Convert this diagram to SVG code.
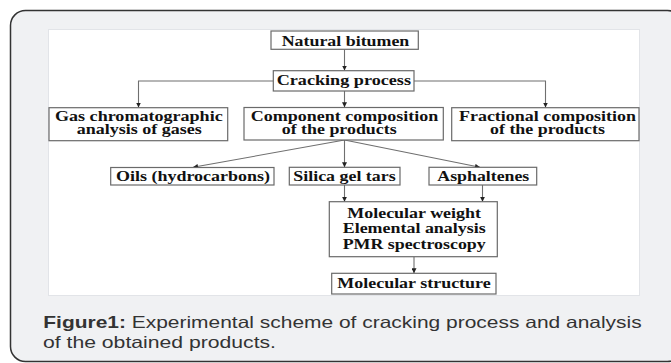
<svg xmlns="http://www.w3.org/2000/svg" width="671" height="363" viewBox="0 0 671 363">
<style>
.box{fill:#fff;stroke:#6a6a6a;stroke-width:1.2}
.t{font-family:"Liberation Serif","Times New Roman",serif;font-weight:bold;font-size:15px;fill:#111}
.c{fill:none;stroke:#6f6f6f;stroke-width:1.1}
.cap{font-family:"Liberation Sans",Arial,sans-serif;font-size:16.5px;fill:#333}
</style>
<defs>
<marker id="ah" viewBox="0 0 10 10" refX="10" refY="5" markerWidth="5" markerHeight="5" orient="auto" markerUnits="userSpaceOnUse">
<path d="M0,0 L10,5 L0,10 z" fill="#222"/>
</marker>
</defs>
<rect x="10.5" y="10.5" width="672" height="351" rx="15" ry="15" fill="#f0f1f3" stroke="#333" stroke-width="1.5"/>
<rect x="48.5" y="29.5" width="591" height="266" fill="#fff" stroke="#e2e4e8" stroke-width="1"/>
<g id="connectors">
<line class="c" x1="344.5" y1="49.5" x2="344.5" y2="70.5" marker-end="url(#ah)"/>
<polyline class="c" points="273,81 138.5,81 138.5,107.5" marker-end="url(#ah)"/>
<polyline class="c" points="414,81 545.5,81 545.5,107.5" marker-end="url(#ah)"/>
<line class="c" x1="344.5" y1="91" x2="344.5" y2="107.3" marker-end="url(#ah)"/>
<line class="c" x1="344.5" y1="140" x2="193" y2="167.3" marker-end="url(#ah)"/>
<line class="c" x1="344.5" y1="140" x2="344.5" y2="167.3" marker-end="url(#ah)"/>
<line class="c" x1="344.5" y1="140" x2="480" y2="167.3" marker-end="url(#ah)"/>
<line class="c" x1="344.5" y1="185" x2="344.5" y2="201.7" marker-end="url(#ah)"/>
<line class="c" x1="482.5" y1="185" x2="482.5" y2="201.7" marker-end="url(#ah)"/>
<line class="c" x1="414" y1="256.7" x2="414" y2="273.3" marker-end="url(#ah)"/>
</g>
<g id="natural-bitumen">
<rect class="box" x="271" y="31" width="147.3" height="18.3"/>
<text class="t" x="281.7" y="45.5" textLength="127.6" lengthAdjust="spacingAndGlyphs">Natural bitumen</text>
</g>
<g id="cracking-process">
<rect class="box" x="273.3" y="70.7" width="140.7" height="20.3"/>
<text class="t" x="276.7" y="84.5" textLength="134.3" lengthAdjust="spacingAndGlyphs">Cracking process</text>
</g>
<g id="gas-chromatographic">
<rect class="box" x="49" y="107.7" width="178.7" height="33"/>
<text class="t" x="55" y="120.5" textLength="167.7" lengthAdjust="spacingAndGlyphs">Gas chromatographic</text>
<text class="t" x="76.7" y="134" textLength="125" lengthAdjust="spacingAndGlyphs">analysis of gases</text>
</g>
<g id="component-composition">
<rect class="box" x="244" y="107.5" width="199.3" height="32.5"/>
<text class="t" x="250.7" y="120.5" textLength="187.6" lengthAdjust="spacingAndGlyphs">Component composition</text>
<text class="t" x="281.7" y="134" textLength="115" lengthAdjust="spacingAndGlyphs">of the products</text>
</g>
<g id="fractional-composition">
<rect class="box" x="451.7" y="107.7" width="187.3" height="33"/>
<text class="t" x="459" y="120.5" textLength="177" lengthAdjust="spacingAndGlyphs">Fractional composition</text>
<text class="t" x="490" y="134" textLength="115" lengthAdjust="spacingAndGlyphs">of the products</text>
</g>
<g id="oils">
<rect class="box" x="110.7" y="167.5" width="163.3" height="17.5"/>
<text class="t" x="116" y="180.5" textLength="154" lengthAdjust="spacingAndGlyphs">Oils (hydrocarbons)</text>
</g>
<g id="silica-gel-tars">
<rect class="box" x="289.3" y="167.3" width="110.7" height="17.7"/>
<text class="t" x="293.3" y="180.5" textLength="102.4" lengthAdjust="spacingAndGlyphs">Silica gel tars</text>
</g>
<g id="asphaltenes">
<rect class="box" x="429" y="167.3" width="107.7" height="17.7"/>
<text class="t" x="437.3" y="180.5" textLength="92" lengthAdjust="spacingAndGlyphs">Asphaltenes</text>
</g>
<g id="analysis-methods">
<rect class="box" x="329.3" y="201.7" width="168" height="55"/>
<text class="t" x="347.3" y="217.5" textLength="133.7" lengthAdjust="spacingAndGlyphs">Molecular weight</text>
<text class="t" x="342.7" y="233" textLength="143" lengthAdjust="spacingAndGlyphs">Elemental analysis</text>
<text class="t" x="342.7" y="248.5" textLength="143" lengthAdjust="spacingAndGlyphs">PMR spectroscopy</text>
</g>
<g id="molecular-structure">
<rect class="box" x="331.7" y="273.3" width="164.3" height="20.7"/>
<text class="t" x="337.3" y="288" textLength="153.4" lengthAdjust="spacingAndGlyphs">Molecular structure</text>
</g>
<text class="cap" x="43.3" y="328" textLength="598.4" lengthAdjust="spacingAndGlyphs"><tspan font-weight="bold">Figure1:</tspan> Experimental scheme of cracking process and analysis</text>
<text class="cap" x="43" y="347.5" textLength="233" lengthAdjust="spacingAndGlyphs">of the obtained products.</text>
</svg>
